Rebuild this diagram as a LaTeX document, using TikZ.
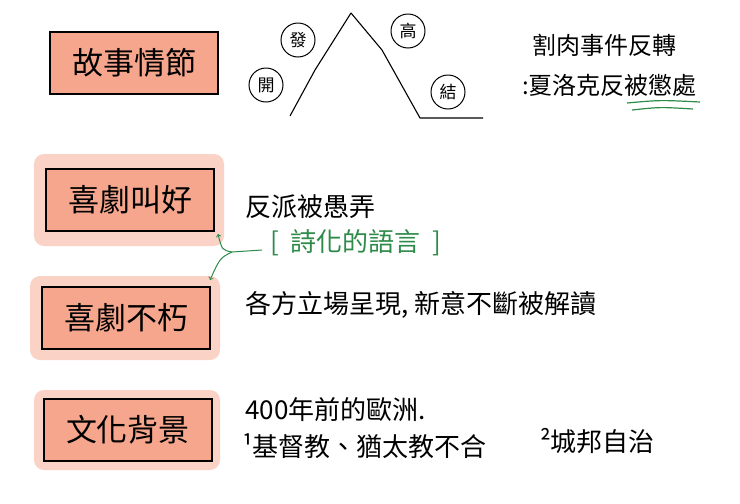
\documentclass[tikz,border=0pt]{standalone}
\usepackage{fontspec}
\setmainfont{Noto Sans CJK TC}
\definecolor{salmon}{HTML}{F5A68C}
\definecolor{glow}{HTML}{FBD3C6}
\definecolor{gr}{HTML}{2E8B4A}
\begin{document}
\begin{tikzpicture}[x=1pt,y=-1pt,
  box/.style={draw=black,line width=1.2pt,fill=salmon,minimum width=168pt,minimum height=62pt,font=\fontsize{31}{33}\selectfont},
  halo/.style={fill=glow,rounded corners=10pt},
  circ/.style={draw,circle,line width=1pt,minimum size=34pt,inner sep=0pt,font=\fontsize{17}{18}\selectfont},
  txt/.style={font=\fontsize{26}{28}\selectfont,anchor=west,inner sep=0pt},
  stxt/.style={txt,font=\fontsize{24}{26}\selectfont},
  gtxt/.style={txt,text=gr}]
\useasboundingbox (0,0) rectangle (740,504);
\fill[white] (0,0) rectangle (740,504);
\fill[halo] (34,154) rectangle (224,246);
\fill[halo] (30,276) rectangle (220,360);
\fill[halo] (34,390) rectangle (220,470);
\node[box] (b1) at (134,63) {故事情節};
\node[box] (b2) at (130,200) {喜劇叫好};
\node[box] (b3) at (126,318) {喜劇不朽};
\node[box] (b4) at (128,430) {文化背景};
% mountain
\coordinate (m0) at (290,116);
\coordinate (mp) at (351,13);
\coordinate (m1) at (420,118);
\coordinate (m2) at (483,118);
\draw[line width=1.1pt,line join=round] (m0) -- (315,70) -- (mp) -- (382,50) -- (m1) -- (m2);
\node[circ] (c1) at (266,85) {開};
\node[circ] (c2) at (298,40) {發};
\node[circ] (c3) at (408,31) {高};
\node[circ] (c4) at (448,92) {結};
\node[stxt] (t1) at (532,45) {割肉事件反轉};
\node[stxt] (t2) at (522,85) {:夏洛克反被懲處};
\draw[gr,line width=1.2pt] (627,103) .. controls (660,100) .. (700,102);
\draw[gr,line width=1.2pt] (632,110) .. controls (660,107) .. (693,109);
\node[txt] (t3) at (245,207) {反派被愚弄};
\node[gtxt] (t4) at (270,243) {[\ \ 詩化的語言\ \ ]};
\coordinate (j) at (262,250);
\draw[gr,line width=1pt,->] (j) -- (232,252) .. controls (222,250) .. (218,234);
\draw[gr,line width=1pt,->] (232,252) .. controls (220,258) .. (210,280);
\node[txt] (t5) at (245,305) {各方立場呈現, 新意不斷被解讀};
\node[txt] (t6) at (245,410) {400年前的歐洲.};
\node[txt] (t7) at (242,446) {¹基督教、猶太教不合};
\node[txt] (t8) at (540,441) {²城邦自治};
\end{tikzpicture}
\end{document}
